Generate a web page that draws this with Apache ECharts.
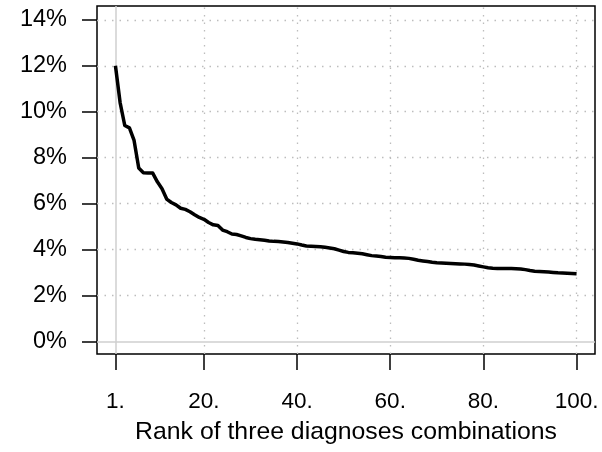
<!DOCTYPE html>
<html>
<head>
<meta charset="utf-8">
<style>
  html, body { margin: 0; padding: 0; background: #fff; }
  #chart { width: 602px; height: 452px; }
</style>
<script src="https://cdn.jsdelivr.net/npm/echarts@6/dist/echarts.min.js"></script>
</head>
<body>
<div id="chart"></div>
<script>
const shareValues = [
  12.0, 10.4, 9.4, 9.3, 8.75, 7.55, 7.35, 7.33, 7.33, 6.95,
  6.65, 6.2, 6.05, 5.95, 5.8, 5.75, 5.65, 5.52, 5.4, 5.32,
  5.18, 5.08, 5.05, 4.85, 4.78, 4.68, 4.66, 4.6, 4.53, 4.48,
  4.45, 4.43, 4.41, 4.38, 4.36, 4.35, 4.33, 4.31, 4.28, 4.25,
  4.2, 4.16, 4.15, 4.14, 4.13, 4.1, 4.07, 4.04, 3.98, 3.92,
  3.88, 3.86, 3.84, 3.82, 3.78, 3.74, 3.72, 3.7, 3.67, 3.66,
  3.65, 3.65, 3.64, 3.62, 3.58, 3.54, 3.51, 3.48, 3.45, 3.43,
  3.42, 3.41, 3.4, 3.39, 3.38, 3.37, 3.35, 3.33, 3.29, 3.25,
  3.21, 3.19, 3.18, 3.18, 3.18, 3.18, 3.17, 3.16, 3.13, 3.09,
  3.06, 3.05, 3.04, 3.03, 3.01, 2.99, 2.98, 2.97, 2.96, 2.95
];
const xTicks = [1, 20, 40, 60, 80, 100];
const yTicks = [0, 2, 4, 6, 8, 10, 12, 14];
const xTitle = "Rank of three diagnoses combinations";

const FONT = "'Liberation Sans', Arial, Helvetica, sans-serif";
const dotted = { color: "#bdbdbd", width: 1.3, type: [1.5, 6] };
const solidGrey = { color: "#cfcfcf", width: 1.5, type: "solid" };

function gridLines() {
  const lines = [];
  xTicks.slice(1).forEach((v) => lines.push({ xAxis: v, lineStyle: dotted }));
  yTicks.slice(1).forEach((v) => lines.push({ yAxis: v, lineStyle: dotted }));
  lines.push({ xAxis: xTicks[0], lineStyle: solidGrey });
  lines.push({ yAxis: yTicks[0], lineStyle: solidGrey });
  return lines;
}

const chart = echarts.init(document.getElementById("chart"));

chart.setOption({
  animation: false,
  grid: {
    left: 97, right: 7, top: 6, bottom: 98,
    show: true, borderColor: "#000", borderWidth: 1.5, backgroundColor: "transparent"
  },
  xAxis: {
    type: "value",
    min: -2.96,
    max: 103.96,
    name: xTitle,
    nameLocation: "middle",
    nameGap: 66,
    nameTextStyle: { fontFamily: FONT, fontSize: 24.8, color: "#000" },
    axisLine: { show: false, onZero: false },
    splitLine: { show: false },
    axisTick: {
      show: true, inside: false, length: 16, customValues: xTicks,
      lineStyle: { color: "#000", width: 1.5 }
    },
    axisLabel: {
      customValues: xTicks,
      margin: 36,
      fontFamily: FONT, fontSize: 22.5, color: "#000",
      formatter: (v) => v + "."
    }
  },
  yAxis: {
    type: "value",
    min: -0.54,
    max: 14.6,
    axisLine: { show: false, onZero: false },
    splitLine: { show: false },
    axisTick: {
      show: true, inside: false, length: 15, customValues: yTicks,
      lineStyle: { color: "#000", width: 1.5 }
    },
    axisLabel: {
      customValues: yTicks,
      margin: 30,
      fontFamily: FONT, fontSize: 23.5, color: "#000",
      formatter: (v) => v + "%"
    }
  },
  series: [
    {
      type: "line",
      data: [],
      z: 1,
      silent: true,
      markLine: {
        silent: true,
        symbol: "none",
        animation: false,
        label: { show: false },
        data: gridLines()
      }
    },
    {
      type: "line",
      z: 5,
      data: shareValues.map((v, i) => [i + 1, v]),
      showSymbol: false,
      symbol: "none",
      lineStyle: { color: "#000", width: 3.5, join: "round" }
    }
  ]
});
</script>
</body>
</html>
